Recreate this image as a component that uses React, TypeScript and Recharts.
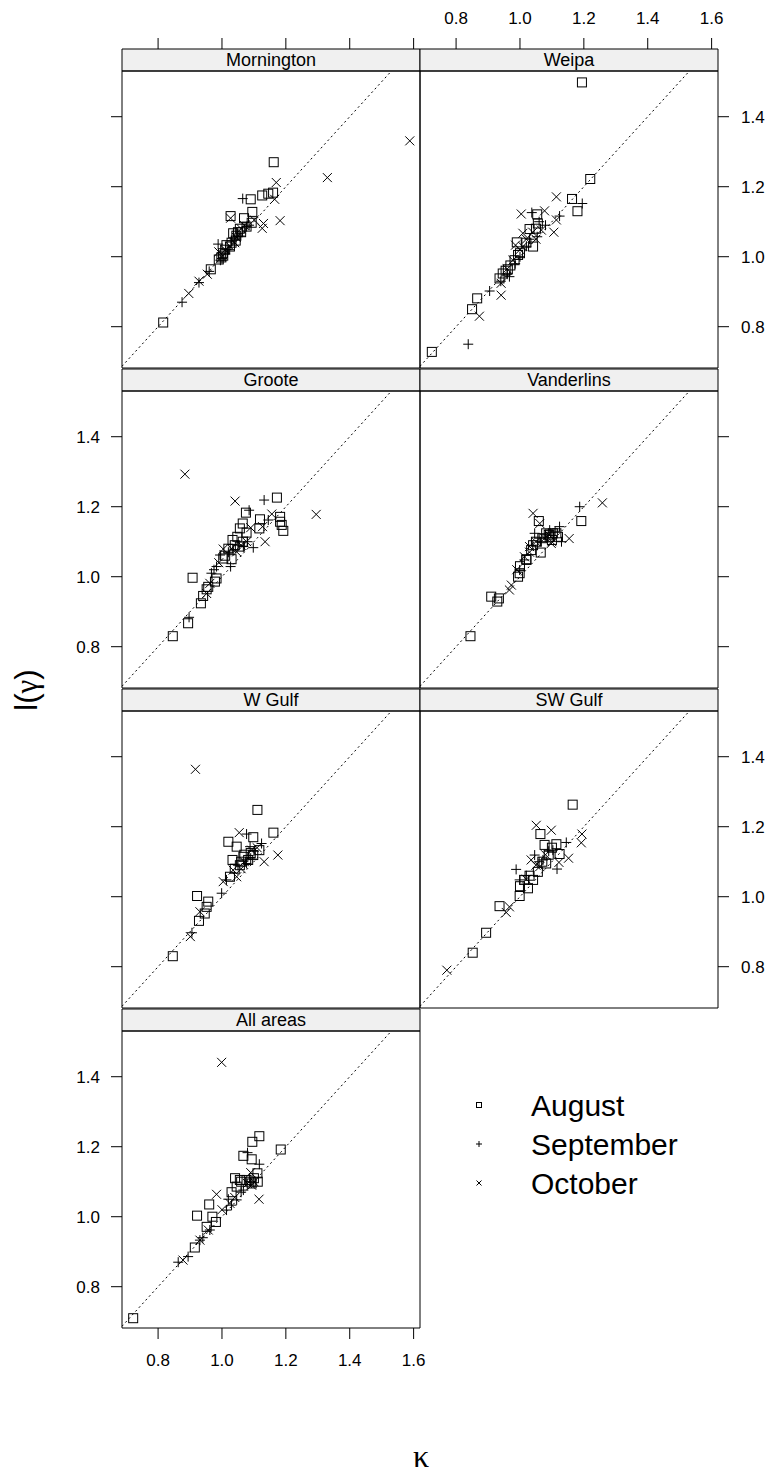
import React from "react";
import {
  ScatterChart,
  Scatter,
  XAxis,
  YAxis,
  ReferenceArea,
  ReferenceLine,
} from "recharts";

// panel order follows the lattice layout (left to right, top to bottom)
const panelNames = ["Mornington", "Weipa", "Groote", "Vanderlins", "W Gulf", "SW Gulf", "All areas"];
const months = ["August", "September", "October"];
const xTicks = [0.8, 1.0, 1.2, 1.4, 1.6];
const yTicks = [0.8, 1.0, 1.2, 1.4];

// [kappa, l(gamma)]
const morningtonAug = [[0.816, 0.812], [0.965, 0.964], [0.99, 0.992], [0.998, 0.998], [1.004, 1.003], [1.014, 1.033], [1.025, 1.029], [1.035, 1.067], [1.043, 1.046], [1.056, 1.08], [1.027, 1.116], [1.069, 1.11], [1.095, 1.128], [1.077, 1.086], [1.09, 1.164], [1.126, 1.175], [1.145, 1.18], [1.16, 1.183], [1.162, 1.27], [1.05, 1.07], [1.093, 1.097], [1.003, 1.01], [1.01, 1.02], [1.03, 1.04], [1.045, 1.06], [1.06, 1.07]];
const morningtonSep = [[0.875, 0.87], [0.928, 0.926], [0.988, 1.036], [1.056, 1.059], [1.077, 1.086], [1.065, 1.166], [1.0, 0.995], [1.02, 1.02], [1.04, 1.05], [0.96, 0.958], [1.01, 1.01], [0.995, 0.99], [1.03, 1.045], [1.05, 1.065], [1.085, 1.09]];
const morningtonOct = [[0.896, 0.895], [0.928, 0.93], [0.954, 0.95], [0.99, 1.014], [1.025, 1.03], [1.027, 1.11], [1.06, 1.08], [1.101, 1.105], [1.13, 1.095], [1.126, 1.081], [1.182, 1.103], [1.17, 1.212], [1.165, 1.164], [1.33, 1.226], [1.588, 1.331], [1.0, 1.0], [1.04, 1.04], [1.01, 1.02], [1.045, 1.055], [1.07, 1.09]];

const weipaAug = [[1.194, 1.498], [1.22, 1.222], [1.163, 1.165], [1.18, 1.13], [1.054, 1.121], [1.056, 1.095], [1.03, 1.079], [1.041, 1.029], [0.99, 1.041], [0.983, 0.99], [0.994, 1.005], [0.936, 0.938], [0.946, 0.952], [0.962, 0.964], [0.866, 0.881], [0.85, 0.85], [0.724, 0.728], [1.05, 1.08], [1.0, 1.01], [1.02, 1.04], [0.97, 0.975], [0.955, 0.96]];
const weipaSep = [[1.195, 1.152], [1.037, 1.126], [1.124, 1.116], [1.054, 1.057], [0.967, 0.943], [0.905, 0.902], [0.838, 0.75], [1.0, 1.0], [1.02, 1.03], [0.94, 0.93], [1.06, 1.1], [0.96, 0.95], [0.985, 0.98], [1.03, 1.05], [1.08, 1.09]];
const weipaOct = [[1.114, 1.171], [1.004, 1.122], [1.077, 1.131], [1.114, 1.105], [1.106, 1.07], [1.009, 1.067], [1.067, 1.076], [0.986, 1.033], [1.009, 1.029], [0.978, 0.99], [0.941, 0.924], [0.941, 0.89], [0.873, 0.83], [1.05, 1.05], [0.96, 0.965], [1.02, 1.05], [1.0, 1.02], [1.04, 1.07]];

const grooteAug = [[1.172, 1.226], [1.075, 1.183], [1.182, 1.171], [1.182, 1.157], [1.187, 1.148], [1.192, 1.131], [1.119, 1.164], [1.117, 1.138], [1.065, 1.152], [1.056, 1.138], [1.077, 1.126], [1.033, 1.105], [1.048, 1.114], [1.03, 1.05], [0.908, 0.997], [0.983, 0.995], [0.978, 0.986], [0.957, 0.971], [0.952, 0.964], [0.941, 0.945], [0.934, 0.924], [0.894, 0.867], [0.846, 0.83], [1.004, 1.052], [1.056, 1.086], [1.02, 1.08], [1.04, 1.09], [1.065, 1.1], [1.01, 1.06]];
const grooteSep = [[1.132, 1.219], [1.085, 1.19], [1.098, 1.083], [1.027, 1.029], [0.967, 1.01], [0.994, 1.062], [0.897, 0.884], [1.145, 1.162], [1.035, 1.076], [1.067, 1.086], [0.983, 1.029], [1.02, 1.07], [1.05, 1.09], [1.08, 1.1], [0.975, 1.02]];
const grooteOct = [[0.884, 1.293], [1.041, 1.216], [1.156, 1.179], [1.295, 1.178], [1.127, 1.143], [1.135, 1.1], [1.004, 1.079], [1.077, 1.1], [0.962, 0.981], [0.952, 0.952], [1.046, 1.071], [0.99, 1.04], [1.03, 1.08], [1.06, 1.09], [1.09, 1.14]];

const vanderlinsAug = [[1.192, 1.159], [1.059, 1.159], [1.103, 1.124], [1.119, 1.114], [1.082, 1.124], [1.065, 1.069], [1.041, 1.09], [1.035, 1.076], [0.994, 1.0], [0.999, 1.01], [0.91, 0.943], [0.934, 0.938], [0.929, 0.929], [0.845, 0.83], [1.02, 1.048], [1.093, 1.114], [1.114, 1.124], [1.07, 1.11], [1.09, 1.12], [1.1, 1.105], [1.05, 1.1], [1.02, 1.05], [1.0, 1.03]];
const vanderlinsSep = [[1.187, 1.2], [1.124, 1.143], [1.13, 1.1], [1.046, 1.124], [1.067, 1.1], [1.014, 1.048], [0.999, 1.019], [1.093, 1.133], [1.08, 1.12], [1.11, 1.13], [1.04, 1.09], [1.06, 1.11]];
const vanderlinsOct = [[1.258, 1.211], [1.041, 1.181], [1.154, 1.109], [1.098, 1.095], [0.973, 0.976], [0.967, 0.962], [1.03, 1.086], [1.014, 1.057], [1.077, 1.11], [1.062, 1.152], [1.09, 1.12], [1.1, 1.1], [1.05, 1.1], [1.03, 1.07], [0.99, 1.02]];

const wGulfAug = [[1.111, 1.248], [1.161, 1.183], [1.098, 1.17], [1.02, 1.157], [1.046, 1.143], [1.117, 1.133], [1.033, 1.105], [1.025, 1.057], [0.922, 1.002], [0.957, 0.986], [0.952, 0.971], [0.946, 0.952], [0.928, 0.931], [0.846, 0.83], [1.067, 1.114], [1.082, 1.105], [1.098, 1.119], [1.056, 1.09], [1.07, 1.12], [1.09, 1.125], [1.06, 1.1], [1.04, 1.08]];
const wGulfSep = [[1.077, 1.179], [1.124, 1.152], [0.906, 0.897], [0.999, 1.01], [1.088, 1.143], [1.077, 1.095], [1.014, 1.048], [1.09, 1.11], [1.1, 1.13], [1.05, 1.09]];
const wGulfOct = [[0.917, 1.364], [1.175, 1.119], [1.054, 1.183], [1.132, 1.1], [1.046, 1.057], [1.004, 1.043], [0.931, 0.957], [0.901, 0.886], [1.093, 1.133], [1.035, 1.076], [1.07, 1.1], [1.11, 1.14], [1.06, 1.08]];

const swGulfAug = [[1.165, 1.263], [1.064, 1.179], [1.114, 1.15], [1.077, 1.148], [1.124, 1.122], [1.014, 1.048], [1.025, 1.024], [0.999, 1.002], [0.936, 0.973], [0.894, 0.897], [0.852, 0.84], [1.082, 1.095], [1.056, 1.071], [1.041, 1.048], [1.1, 1.14], [1.09, 1.12], [1.07, 1.1], [1.03, 1.06], [1.0, 1.03]];
const swGulfSep = [[1.145, 1.155], [1.116, 1.079], [0.988, 1.078], [1.046, 1.119], [0.999, 1.048], [1.072, 1.105], [1.103, 1.133], [1.09, 1.13], [1.06, 1.1], [1.02, 1.06]];
const swGulfOct = [[1.051, 1.204], [1.098, 1.19], [1.194, 1.179], [1.192, 1.154], [1.152, 1.11], [1.122, 1.098], [0.967, 0.971], [0.957, 0.955], [0.771, 0.79], [1.035, 1.105], [1.062, 1.086], [1.08, 1.12], [1.05, 1.09], [1.02, 1.05]];

const allAug = [[1.117, 1.23], [1.095, 1.214], [1.184, 1.192], [1.067, 1.174], [1.093, 1.164], [1.111, 1.124], [1.112, 1.1], [1.041, 1.11], [1.056, 1.105], [1.077, 1.105], [1.093, 1.095], [0.96, 1.035], [0.922, 1.003], [0.97, 1.0], [0.981, 0.985], [0.915, 0.912], [0.722, 0.71], [1.046, 1.086], [0.952, 0.971], [1.06, 1.1], [1.1, 1.11], [1.09, 1.1], [1.03, 1.07]];
const allSep = [[1.08, 1.183], [1.117, 1.15], [1.014, 1.019], [1.03, 1.033], [1.046, 1.048], [0.863, 0.87], [0.894, 0.886], [0.931, 0.933], [0.962, 0.962], [1.067, 1.076], [1.09, 1.1], [1.02, 1.05], [1.06, 1.07], [0.94, 0.94]];
const allOct = [[0.999, 1.441], [1.09, 1.126], [1.116, 1.05], [0.983, 1.064], [0.957, 0.962], [0.931, 0.933], [0.878, 0.876], [1.093, 1.09], [1.025, 1.038], [1.1, 1.1], [1.08, 1.095], [1.04, 1.055], [1.0, 1.02]];

const panelData = [
  [morningtonAug, morningtonSep, morningtonOct],
  [weipaAug, weipaSep, weipaOct],
  [grooteAug, grooteSep, grooteOct],
  [vanderlinsAug, vanderlinsSep, vanderlinsOct],
  [wGulfAug, wGulfSep, wGulfOct],
  [swGulfAug, swGulfSep, swGulfOct],
  [allAug, allSep, allOct],
];

// axis ranges of every panel
const X_MIN = 0.687;
const X_MAX = 1.62;
const Y_MIN = 0.682;
const Y_MAX = 1.5306;

// layout in page pixels
const PANEL_W = 298;
const PANEL_H = 297;
const STRIP_H = 22;
const PAD = 60; // room around each panel for its axes
const PX_PER_Y = PANEL_H / (Y_MAX - Y_MIN);
const STRIP_TOP = Y_MAX + STRIP_H / PX_PER_Y;
const COL_LEFT = [122, 420];
const ROW_TOP = [49, 369, 689, 1009];
const FONT = "'Liberation Sans', Arial, Helvetica, sans-serif";
const SERIF = "'Liberation Serif', 'DejaVu Serif', serif";

// which axes each panel carries: "labels" or "ticks"
const panelAxes = [
  { top: "ticks", left: "ticks" },
  { top: "labels", right: "labels" },
  { left: "labels" },
  { right: "ticks" },
  { left: "ticks" },
  { right: "labels" },
  { bottom: "labels", left: "labels" },
];

const Square = (size) => (props) => {
  const { cx, cy } = props;
  if (cx == null || cy == null) return null;
  return <rect x={cx - size / 2} y={cy - size / 2} width={size} height={size} fill="none" stroke="#000" strokeWidth={1} />;
};
const Plus = (size) => (props) => {
  const { cx, cy } = props;
  if (cx == null || cy == null) return null;
  const h = size / 2;
  return (
    <g stroke="#000" strokeWidth={1}>
      <line x1={cx - h} y1={cy} x2={cx + h} y2={cy} />
      <line x1={cx} y1={cy - h} x2={cx} y2={cy + h} />
    </g>
  );
};
const Cross = (size) => (props) => {
  const { cx, cy } = props;
  if (cx == null || cy == null) return null;
  const h = size / 2;
  return (
    <g stroke="#000" strokeWidth={1}>
      <line x1={cx - h} y1={cy - h} x2={cx + h} y2={cy + h} />
      <line x1={cx - h} y1={cy + h} x2={cx + h} y2={cy - h} />
    </g>
  );
};
const shapes = [Square(9), Plus(10), Cross(9)];
const legendShapes = [Square(5), Plus(6), Cross(5)];

const makeTick = (side, show) => (props) => {
  const { x, y, payload } = props;
  if (!show) return <g />;
  const common = { fill: "#000", fontSize: 17, fontFamily: FONT };
  const label = payload.value.toFixed(1);
  if (side === "top") return <text x={x} y={y} dy={-12} textAnchor="middle" {...common}>{label}</text>;
  if (side === "bottom") return <text x={x} y={y} dy={25} textAnchor="middle" {...common}>{label}</text>;
  if (side === "left") return <text x={x} y={y} dx={-9} dy={6} textAnchor="end" {...common}>{label}</text>;
  return <text x={x} y={y} dx={10} dy={6} textAnchor="start" {...common}>{label}</text>;
};

const Panel = ({ index, col, row }) => {
  const axes = panelAxes[index];
  const xSide = axes.top ? "top" : axes.bottom ? "bottom" : null;
  const ySide = axes.left ? "left" : axes.right ? "right" : null;
  const margin = {
    top: xSide === "top" ? 0 : PAD,
    bottom: xSide === "bottom" ? 0 : PAD,
    left: ySide === "left" ? 0 : PAD,
    right: ySide === "right" ? 0 : PAD,
  };
  const series = panelData[index];
  return (
    <div style={{ position: "absolute", left: COL_LEFT[col] - PAD, top: ROW_TOP[row] - PAD }}>
      <ScatterChart width={PANEL_W + 2 * PAD} height={STRIP_H + PANEL_H + 2 * PAD} margin={margin}>
        <XAxis
          type="number"
          dataKey="x"
          domain={[X_MIN, X_MAX]}
          ticks={xTicks}
          allowDataOverflow
          orientation={xSide === "bottom" ? "bottom" : "top"}
          hide={!xSide}
          height={PAD}
          tickSize={11}
          axisLine={false}
          tickLine={{ stroke: "#000" }}
          tick={makeTick(xSide, xSide && axes[xSide] === "labels")}
        />
        <YAxis
          type="number"
          dataKey="y"
          domain={[Y_MIN, STRIP_TOP]}
          ticks={yTicks}
          allowDataOverflow
          orientation={ySide === "right" ? "right" : "left"}
          hide={!ySide}
          width={PAD}
          tickSize={11}
          axisLine={false}
          tickLine={{ stroke: "#000" }}
          tick={makeTick(ySide, ySide && axes[ySide] === "labels")}
        />
        <ReferenceArea
          x1={X_MIN}
          x2={X_MAX}
          y1={Y_MAX}
          y2={STRIP_TOP}
          fill="#f0f0f0"
          fillOpacity={1}
          stroke="#000"
          strokeWidth={1}
          label={{ value: panelNames[index], position: "center", fill: "#000", fontSize: 18, fontFamily: FONT }}
        />
        <ReferenceArea x1={X_MIN} x2={X_MAX} y1={Y_MIN} y2={Y_MAX} fill="none" fillOpacity={0} stroke="#000" strokeWidth={1} />
        <ReferenceLine
          segment={[{ x: X_MIN, y: X_MIN }, { x: Y_MAX, y: Y_MAX }]}
          stroke="#000"
          strokeWidth={1}
          strokeDasharray="2 3"
          ifOverflow="visible"
        />
        {series.map((pts, i) => (
          <Scatter
            key={months[i]}
            name={months[i]}
            data={pts.map(([x, y]) => ({ x, y }))}
            shape={shapes[i]}
            isAnimationActive={false}
          />
        ))}
      </ScatterChart>
    </div>
  );
};

const Legend = () => (
  <svg style={{ position: "absolute", left: 0, top: 0 }} width={770} height={1475}>
    {months.map((m, i) => (
      <g key={m}>
        {legendShapes[i]({ cx: 479, cy: 1105 + i * 39 })}
        <text x={531} y={1116 + i * 39} fontSize={30} fontFamily={FONT} fill="#000">{m}</text>
      </g>
    ))}
    <text transform="translate(37,690) rotate(-90)" textAnchor="middle" fontSize={31} fontFamily={FONT} fill="#000">
      l(<tspan fontFamily={SERIF}>γ</tspan>)
    </text>
    <text x={421} y={1467} textAnchor="middle" fontSize={32} fontFamily={SERIF} fill="#000">κ</text>
  </svg>
);

export default function App() {
  return (
    <div style={{ position: "absolute", left: 0, top: 0, width: 770, height: 1475, background: "#fff", fontFamily: FONT }}>
      <Legend />
      {panelNames.map((name, i) => (
        <Panel key={name} index={i} col={i % 2} row={Math.floor(i / 2)} />
      ))}
    </div>
  );
}
